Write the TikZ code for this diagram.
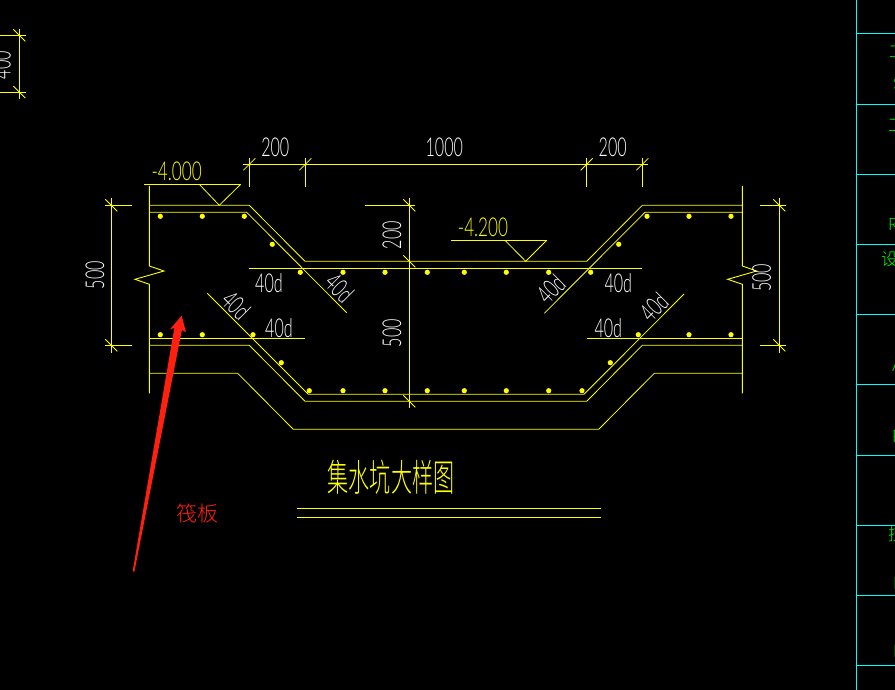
\documentclass[tikz,border=0pt]{standalone}
\usepackage{fontspec}
\usepackage{graphicx}
\newfontfamily\cadfont{Lato}[UprightFont=* Light]
\newfontfamily\cjkfont{Noto Sans CJK SC}[UprightFont=* Light]
\definecolor{cadyellow}{RGB}{255,255,0}
\definecolor{cadcyan}{RGB}{0,255,255}
\definecolor{cadgreen}{RGB}{0,255,0}
\definecolor{markred}{RGB}{255,32,16}
\newcommand{\cadtxt}[1]{\scalebox{0.62}[1]{\fontsize{26}{26}\cadfont #1}}
\newcommand{\cadwide}[1]{\scalebox{0.66}[1]{\fontsize{26}{26}\cadfont #1}}
\tikzset{
  cad/.style={draw=cadyellow,line width=0.9pt},
  thinl/.style={draw=cadyellow,line width=0.8pt},
  panel/.style={draw=cadcyan,line width=0.9pt},
  lab/.style={text=white,inner sep=0pt},
  elev/.style={text=cadyellow,inner sep=0pt},
  side/.style={text=cadgreen,inner sep=0pt,anchor=west},
  rebar/.style={fill=cadyellow,draw=none},
}
\newcommand{\ticku}[2]{\draw[thinl] (#1-6,#2+6) -- (#1+6,#2-6);}
\newcommand{\tickd}[2]{\draw[thinl] (#1-6,#2-6) -- (#1+6,#2+6);}
\begin{document}
\begin{tikzpicture}[x=1pt,y=-1pt]
\useasboundingbox (0,0) rectangle (895,690);
\clip (0,0) rectangle (895,690);
\fill[black] (0,0) rectangle (895,690);

% right title panel
\draw[panel] (856.5,0) -- (856.5,690);
\foreach \y in {33.3,104.3,174.3,244.3,314.3,384.3,455.3,525.3,595.3,665.3}
  \draw[panel] (856.5,\y) -- (895,\y);
\node[side] (g1) at (889,52) {\fontsize{16}{16}\cjkfont 工};
\node[side] (g2) at (893,84) {\fontsize{16}{16}\selectfont\cadfont S};
\node[side] (g3) at (888,125) {\fontsize{17}{17}\cjkfont 工};
\node[side] (g4) at (888,224) {\fontsize{17}{17}\selectfont\cadfont R};
\node[side] (g5) at (881,259) {\fontsize{17}{17}\cjkfont 设};
\node[side] (g6) at (892,365) {\fontsize{17}{17}\selectfont\cadfont A};
\node[side] (g7) at (892,436) {\fontsize{17}{17}\selectfont\cadfont R};
\node[side] (g8) at (888,534) {\fontsize{17}{17}\cjkfont 技};
\node[side] (g9) at (893,583) {\fontsize{17}{17}\selectfont\cadfont R};
\node[side] (g10) at (893,651) {\fontsize{17}{17}\selectfont\cadfont D};

% top-left fragment
\draw[cad] (19.3,29.3) -- (19.3,99.3);
\draw[cad] (0,35.3) -- (25.5,35.3);
\draw[cad] (0,92) -- (25.5,92);
\tickd{19.3}{35.3}\tickd{19.3}{92}
\node[lab,rotate=90] (d400) at (1.5,65) {\cadtxt{400}};

% top dimension
\draw[cad] (243,164.3) -- (648,164.3);
\foreach \x in {249.3,305.3,586.7,642.3}{
  \draw[cad] (\x,158) -- (\x,187);
  \ticku{\x}{164.3}
}
\node[lab] (t1) at (275.3,147) {\cadtxt{200}};
\node[lab] (t2) at (444.3,147) {\cadtxt{1000}};
\node[lab] (t3) at (612.7,147) {\cadtxt{200}};

% elevations
\draw[cad] (144,184.3) -- (240.7,184.3);
\draw[thinl] (199.3,184.3) -- (219.3,205.3) -- (240.7,184.3);
\node[elev] (e1) at (176.7,171) {\cadwide{-4.000}};
\draw[cad] (451,240.3) -- (546.7,240.3);
\draw[thinl] (505,240.3) -- (525.7,261.3) -- (546.7,240.3);
\node[elev] (e2) at (483,227.3) {\cadwide{-4.200}};

% walls with break marks
\draw[cad] (149.3,186) -- (149.3,266) -- (164,271) -- (135,279.3) -- (149.3,284.3) -- (149.3,393.3);
\draw[cad] (742.3,186) -- (742.3,266) -- (756.7,271) -- (727.7,279.3) -- (742.3,284.3) -- (742.3,393.3);

% slab surfaces
\draw[thinl] (149.3,205.3) -- (249.3,205.3) -- (305,261.3) -- (586.7,261.3) -- (642.3,205.3) -- (742.3,205.3);
\draw[thinl] (149.3,212.3) -- (246.7,212.3) -- (346.7,312.7);
\draw[thinl] (742.3,212.3) -- (645,212.3) -- (544.3,313.3);
\draw[cad] (249,268.3) -- (641.7,268.3);
\draw[cad] (149.3,338.3) -- (305,338.3);
\draw[cad] (587,338.3) -- (742.3,338.3);
\draw[thinl] (207.3,293.3) -- (308.3,394.3) -- (584,394.3) -- (684,294);
\draw[thinl] (149.3,345.3) -- (249.3,345.3) -- (305,401.3) -- (586.7,401.3) -- (642.3,345.3) -- (742.3,345.3);
\draw[thinl] (149.3,373.3) -- (237.7,373.3) -- (293.3,429.3) -- (598.7,429.3) -- (654.3,373.3) -- (742.3,373.3);

% rebars
\foreach \x/\y in {160.3/216.3,202.3/216.3,244.3/216.3,272.3/244.3,
  300.3/272.3,343/272.3,385/272.3,427.3/272.3,464.3/272.3,506.3/272.3,548.7/272.3,590.7/272.3,
  618.7/244.3,647/216.3,689/216.3,731/216.3,
  160.3/334.7,202.3/334.7,253/334.7,638.3/334.7,689/334.7,731/334.7,
  281.3/362.7,610.3/362.7,
  309.3/390.7,343/390.7,385/390.7,427.3/390.7,464.3/390.7,506.3/390.7,548.7/390.7,582/390.7}
  \fill[rebar] (\x,\y) circle[radius=2.6];

% vertical dimensions
\draw[cad] (111.3,198) -- (111.3,352.7);
\draw[cad] (105,205.3) -- (132,205.3);
\draw[cad] (105,345.3) -- (132,345.3);
\tickd{111.3}{205.3}\tickd{111.3}{345.3}
\node[lab,rotate=90] (l500) at (95,275) {\cadtxt{500}};

\draw[cad] (409.3,198.3) -- (409.3,408.3);
\draw[cad] (365,205.3) -- (415,205.3);
\tickd{409.3}{205.3}\tickd{409.3}{261.3}\tickd{409.3}{401.3}
\node[lab,rotate=90] (m200) at (392,235) {\cadtxt{200}};
\node[lab,rotate=90] (m500) at (392,333) {\cadtxt{500}};

\draw[cad] (779.3,198) -- (779.3,352.7);
\draw[cad] (760,205.3) -- (785.5,205.3);
\draw[cad] (760,345.3) -- (785.5,345.3);
\tickd{779.3}{205.3}\tickd{779.3}{345.3}
\node[lab,rotate=90] (r500) at (761.7,277.7) {\cadtxt{500}};

% anchorage labels
\node[lab] (a1) at (269,283.3) {\cadtxt{40d}};
\node[lab] (a2) at (279,328.3) {\cadtxt{40d}};
\node[lab] (a3) at (618.3,283.3) {\cadtxt{40d}};
\node[lab] (a4) at (608.3,328.3) {\cadtxt{40d}};
\node[lab,rotate=-45] (a5) at (339.5,288) {\cadtxt{40d}};
\node[lab,rotate=-45] (a6) at (236,305.5) {\cadtxt{40d}};
\node[lab,rotate=45] (a7) at (551,289) {\cadtxt{40d}};
\node[lab,rotate=45] (a8) at (654,307) {\cadtxt{40d}};

% title
\node[inner sep=0pt,text=cadyellow] (title) at (391,477.5) {\scalebox{0.62}[1.1]{\fontsize{34}{34}\cjkfont 集水坑大样图}};
\draw[cad] (297.3,508.3) -- (600.7,508.3);
\draw[cad] (297.3,517.3) -- (600.7,517.3);

% red annotation
\fill[markred] (132.6,571.7) -- (134.4,571.7) -- (181.9,330) -- (186,332.3) -- (181.7,315.7) -- (170,329.3) -- (174.3,328) -- cycle;
\node[inner sep=0pt,text=markred] (raft) at (197.5,513) {\fontsize{21}{21}\cjkfont 筏板};
\end{tikzpicture}
\end{document}
